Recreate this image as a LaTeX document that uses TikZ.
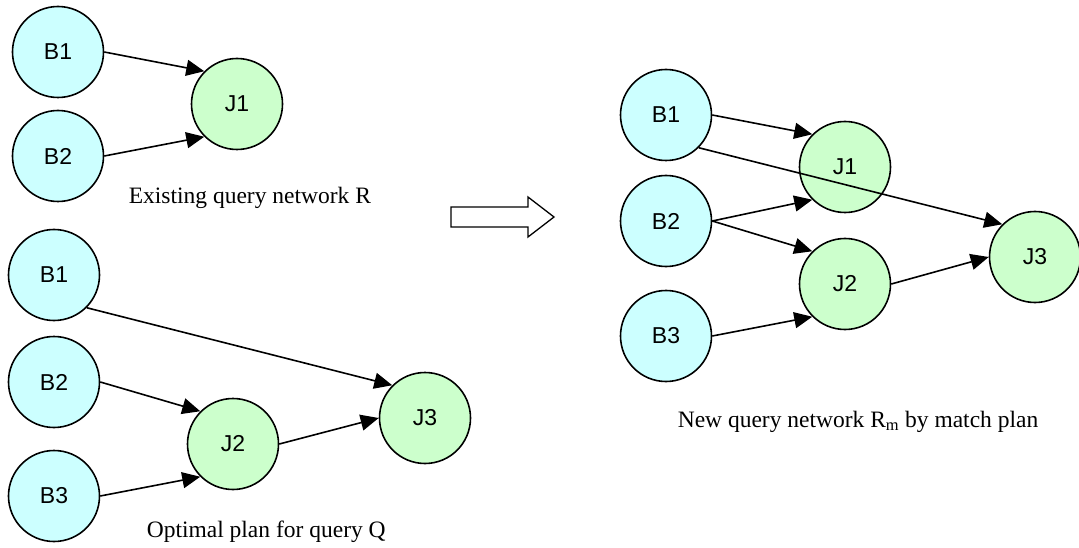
\documentclass[tikz,border=0pt]{standalone}
\usepackage{fontspec}
\setmainfont{Liberation Serif}
\newfontfamily\arialfont{Liberation Sans}
\usetikzlibrary{arrows.meta}
\definecolor{basecyan}{HTML}{CCFFFF}
\definecolor{joingreen}{HTML}{CCFFCC}
\tikzstyle{every picture}=[line width=1.6pt]
\tikzstyle{relnode}=[circle, draw, inner sep=0pt, minimum size=91pt, font=\arialfont\fontsize{23}{27}\selectfont]
\tikzstyle{basenode}=[relnode, fill=basecyan]
\tikzstyle{joinnode}=[relnode, fill=joingreen]
\tikzstyle{edge}=[-{Triangle[length=18pt, width=16pt]}]
\tikzstyle{caption}=[anchor=base west, inner sep=0pt, font=\fontsize{23.5}{28}\selectfont]

\begin{document}
\begin{tikzpicture}[x=1pt, y=-1pt]
\useasboundingbox (0,0) rectangle (1079,548);
% Existing query network R
    \node[basenode] (rB1) at (58,52) {B1};
    \node[basenode] (rB2) at (58,156) {B2};
    \node[joinnode] (rJ1) at (237,104) {J1};
    \draw[edge] (rB1.east) -- (rJ1.north west);
    \draw[edge] (rB2.east) -- (rJ1.south west);
    \node[caption] (rCap) at (128,204) {Existing query network R};
% Optimal plan for query Q
    \node[basenode] (qB1) at (54,275) {B1};
    \node[basenode] (qB2) at (54,382) {B2};
    \node[basenode] (qB3) at (54,496) {B3};
    \node[joinnode] (qJ2) at (233,444) {J2};
    \node[joinnode] (qJ3) at (425,418) {J3};
    \draw[edge] (qB1.south east) -- (qJ3.north west);
    \draw[edge] (qB2.east) -- (qJ2.north west);
    \draw[edge] (qB3.east) -- (qJ2.south west);
    \draw[edge] (qJ2.east) -- (qJ3.west);
    \node[caption] (qCap) at (146,537) {Optimal plan for query Q};
% Hollow arrow
    \draw[line width=1.3pt] (451,207) -- (528,207) -- (528,197) -- (554,217)
        -- (528,237) -- (528,227) -- (451,227) -- cycle;
% New query network R_m
    \node[basenode] (mB1) at (666,115) {B1};
    \node[basenode] (mB2) at (666,221) {B2};
    \node[basenode] (mB3) at (666,336) {B3};
    \node[joinnode] (mJ1) at (845,167) {J1};
    \node[joinnode] (mJ2) at (845,284) {J2};
    \node[joinnode] (mJ3) at (1035,257) {J3};
    \draw[edge] (mB1.east) -- (mJ1.north west);
    \draw[edge] (mB1.south east) -- (mJ3.north west);
    \draw[edge] (mB2.east) -- (mJ1.south west);
    \draw[edge] (mB2.east) -- (mJ2.north west);
    \draw[edge] (mB3.east) -- (mJ2.south west);
    \draw[edge] (mJ2.east) -- (mJ3.west);
    \node[caption] (mCap) at (677,427) {New query network R\textsubscript{m} by match plan};
\end{tikzpicture}
\end{document}
